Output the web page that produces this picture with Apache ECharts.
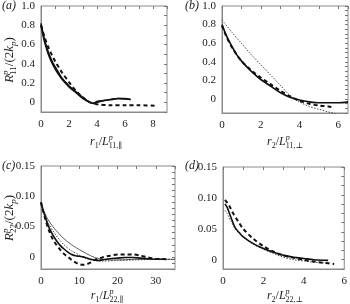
<!DOCTYPE html>
<html>
<head>
<meta charset="utf-8">
<script src="https://cdn.jsdelivr.net/npm/echarts@6/dist/echarts.min.js"></script>
<style>
  html, body { margin: 0; padding: 0; background: #fff; }
  #chart { width: 350px; height: 304px; }
</style>
</head>
<body>
<div id="chart"></div>
<script>
// ---- data ([r, R] pairs) ----
// (a)
var aSolid1 = [[0,0.82],[0.25,0.65],[0.5,0.53],[0.75,0.44],[1,0.37],[1.25,0.31],[1.5,0.25],[1.75,0.21],[2,0.17],[2.5,0.11],[3,0.05],[3.5,0.0],[3.75,-0.01],[4,0.0],[4.5,0.02],[5,0.03],[5.5,0.04],[6,0.04],[6.4,0.03]];
var aSolid2 = [[0,0.8],[0.25,0.63],[0.5,0.51],[0.75,0.42],[1,0.35],[1.25,0.29],[1.5,0.24],[1.75,0.2],[2,0.16],[2.5,0.1],[3,0.04],[3.5,0.0],[3.75,-0.01],[4,0.01],[4.5,0.02],[5,0.03],[5.5,0.04],[6,0.035],[6.4,0.03]];
var aDash   = [[0,0.8],[0.25,0.68],[0.5,0.58],[0.75,0.5],[1,0.43],[1.5,0.31],[2,0.21],[2.5,0.12],[3,0.05],[3.5,0.0],[4,-0.02],[5,-0.03],[6,-0.03],[7,-0.03],[8.2,-0.035]];
// (b)
var bSolid  = [[0,0.8],[0.25,0.67],[0.5,0.57],[0.75,0.48],[1,0.41],[1.5,0.3],[2,0.21],[2.5,0.14],[3,0.07],[3.5,0.02],[4,-0.01],[4.5,-0.03],[5,-0.04],[5.5,-0.04],[6,-0.04],[6.5,-0.03]];
var bDash   = [[0,0.79],[0.25,0.66],[0.5,0.56],[0.75,0.48],[1,0.41],[1.5,0.31],[2,0.23],[2.5,0.16],[3,0.09],[3.5,0.03],[4,-0.02],[4.5,-0.05],[5,-0.07],[5.5,-0.08],[5.8,-0.09]];
var bDot    = [[0,0.85],[0.5,0.72],[1,0.6],[1.5,0.48],[2,0.37],[2.5,0.26],[3,0.15],[3.5,0.04],[4,-0.03],[4.5,-0.08],[5,-0.11],[5.5,-0.14],[6,-0.16],[6.5,-0.17]];
// (c)
var cSolid  = [[0,0.09],[1,0.068],[2,0.05],[3,0.037],[4,0.027],[5,0.019],[6,0.013],[7,0.008],[8,0.004],[9,0.002],[10,0.001],[11,0.0],[12,-0.002],[13,-0.004],[14,-0.005],[15,-0.006],[16,-0.005],[18,-0.003],[20,-0.002],[22,-0.001],[24,-0.001],[26,-0.002],[28,-0.003],[30,-0.004],[32,-0.004]];
var cDash   = [[0,0.09],[1,0.065],[2,0.045],[3,0.03],[4,0.02],[5,0.012],[6,0.005],[7,0.0],[8,-0.005],[9,-0.009],[10,-0.012],[11,-0.013],[12,-0.012],[13,-0.009],[14,-0.005],[16,-0.001],[18,0.002],[20,0.004],[22,0.004],[24,0.004],[26,0.002],[28,-0.001],[30,-0.003],[33,-0.004]];
var cThin   = [[0,0.085],[2,0.06],[4,0.043],[6,0.03],[8,0.02],[10,0.012],[12,0.005],[14,-0.001],[16,-0.004],[18,-0.005],[20,-0.005],[25,-0.004],[30,-0.004],[35,-0.004]];
var cDot    = [[0,0.088],[2,0.055],[4,0.035],[6,0.02],[8,0.01],[10,0.003],[12,-0.003],[14,-0.006],[16,-0.007],[20,-0.006],[25,-0.005],[30,-0.004],[35,-0.004]];
// (d)
var dSolid  = [[0.1,0.09],[0.2,0.085],[0.4,0.068],[0.6,0.052],[0.8,0.044],[1,0.037],[1.5,0.026],[2,0.018],[2.5,0.012],[3,0.007],[3.5,0.004],[4,0.002],[4.5,0.0],[5.2,-0.001]];
var dDash   = [[0.1,0.097],[0.3,0.088],[0.5,0.075],[0.75,0.062],[1,0.05],[1.5,0.034],[2,0.022],[2.5,0.013],[3,0.007],[3.5,0.003],[4,0.0],[4.5,-0.003],[5,-0.005],[5.5,-0.007]];
var dDot    = [[0.1,0.08],[0.2,0.075],[0.4,0.062],[0.6,0.05],[0.8,0.043],[1,0.037],[1.5,0.025],[2,0.017],[2.5,0.01],[3,0.004],[3.5,0.0],[4,-0.002],[4.5,-0.004],[5,-0.005]];

// tick labels
var abYLabels = [0, 0.2, 0.4, 0.6, 0.8, 1.0];
var aXLabels  = [0, 2, 4, 6, 8];
var bXLabels  = [0, 2, 4, 6];
var cdYLabels = [0, 0.05, 0.1, 0.15];
var cXLabels  = [0, 10, 20, 30];
var dXLabels  = [0, 2, 4, 6];

var SERIF = '"Liberation Serif", "DejaVu Serif", serif';
var INK = '#222';
var FRAME = '#8a8a8a';

var chart = echarts.init(document.getElementById('chart'), null, { renderer: 'canvas' });

// panels: grid box + axis ranges + tick step
var panels = [
  { box: { left: 41, top: 6, width: 126, height: 106 }, x: [0, 9], y: [-0.1, 1.0],
    xl: aXLabels, xs: 1, yl: abYLabels, ys: 0.1, yd: 1 },
  { box: { left: 222, top: 6, width: 126, height: 107 }, x: [0, 6.5], y: [-0.15, 1.0],
    xl: bXLabels, xs: 1, yl: abYLabels, ys: 0.05, yd: 1 },
  { box: { left: 41, top: 166, width: 134, height: 103 }, x: [0, 35], y: [-0.02, 0.15],
    xl: cXLabels, xs: 5, yl: cdYLabels, ys: 0.01, yd: 2 },
  { box: { left: 223, top: 167, width: 124, height: 102 }, x: [0, 6], y: [-0.015, 0.15],
    xl: dXLabels, xs: 1, yl: cdYLabels, ys: 0.015, yd: 2 }
];

var grids = [], xAxes = [], yAxes = [];
panels.forEach(function (p, i) {
  grids.push({ left: p.box.left, top: p.box.top, width: p.box.width, height: p.box.height,
    show: true, borderColor: FRAME, borderWidth: 1, backgroundColor: 'transparent' });
  var fmtY = function (v) { return Math.abs(v) < 1e-9 ? '0' : v.toFixed(p.yd); };
  // labelled axes (bottom / left)
  xAxes.push({
    type: 'value', gridIndex: i, position: 'bottom', min: p.x[0], max: p.x[1],
    axisLine: { show: true, onZero: false, lineStyle: { color: FRAME, width: 1 } },
    splitLine: { show: false },
    axisTick: { show: false },
    axisLabel: { customValues: p.xl, margin: 7, color: INK,
      fontFamily: SERIF, fontSize: 11, formatter: function (v) { return String(v); } }
  });
  yAxes.push({
    type: 'value', gridIndex: i, position: 'left', min: p.y[0], max: p.y[1],
    axisLine: { show: true, onZero: false, lineStyle: { color: FRAME, width: 1 } },
    splitLine: { show: false },
    axisTick: { show: false },
    axisLabel: { customValues: p.yl, margin: 6, color: INK,
      fontFamily: SERIF, fontSize: 11, formatter: fmtY }
  });
  // tick-only axes (top / right), plain interval ticks
  xAxes.push({
    type: 'value', gridIndex: i, position: 'top', min: p.x[0], max: p.x[1], interval: p.xs,
    axisLine: { show: false, onZero: false },
    splitLine: { show: false },
    axisTick: { show: true, inside: true, length: 3, lineStyle: { color: '#777', width: 1 } },
    axisLabel: { show: false }
  });
  yAxes.push({
    type: 'value', gridIndex: i, position: 'right', min: p.y[0], max: p.y[1], interval: p.ys,
    axisLine: { show: false, onZero: false },
    splitLine: { show: false },
    axisTick: { show: true, inside: true, length: 3, lineStyle: { color: '#777', width: 1 } },
    axisLabel: { show: false }
  });
});

function line(panel, data, kind) {
  var styles = {
    solid: { color: '#111', width: 1.6, type: 'solid' },
    dash:  { color: '#111', width: 2, type: [4, 3] },
    thin:  { color: '#333', width: 0.8, type: 'solid' },
    dot:   { color: '#333', width: 0.9, type: [1.5, 1.5] }
  };
  return {
    type: 'line', xAxisIndex: panel * 2, yAxisIndex: panel * 2, data: data,
    showSymbol: false, smooth: 0.3, silent: true, animation: false,
    lineStyle: styles[kind]
  };
}

var series = [
  line(0, aDash, 'dash'), line(0, aSolid1, 'solid'), line(0, aSolid2, 'solid'),
  line(1, bDot, 'dot'), line(1, bDash, 'dash'), line(1, bSolid, 'solid'),
  line(2, cThin, 'thin'), line(2, cDot, 'dot'), line(2, cDash, 'dash'), line(2, cSolid, 'solid'),
  line(3, dDot, 'dot'), line(3, dDash, 'dash'), line(3, dSolid, 'solid')
];

// math-style axis titles built from text pieces
var measureCtx = document.createElement('canvas').getContext('2d');
function mathText(segs, base) {
  var x = 0, stackX = 0, children = [];
  segs.forEach(function (s) {
    var small = s.sup || s.sub;
    var size = small ? Math.round(base * 0.68) : base;
    var font = (s.it ? 'italic ' : '') + size + 'px ' + SERIF;
    measureCtx.font = font;
    var w = measureCtx.measureText(s.t).width;
    var x0 = s.stack ? stackX : x;
    var dy = s.sup ? -base * 0.36 : (s.sub ? base * 0.3 : 0);
    children.push({ type: 'text', x: x0, y: dy,
      style: { text: s.t, font: font, fill: INK, textAlign: 'left', textVerticalAlign: 'middle' } });
    if (s.stack) { x = Math.max(x, x0 + w); } else { stackX = x; x += w; }
  });
  children.forEach(function (c) { c.x -= x / 2; });
  return children;
}
function titleGroup(segs, cx, cy, vertical, size) {
  return { type: 'group', x: cx, y: cy, rotation: vertical ? Math.PI / 2 : 0,
    silent: true, children: mathText(segs, size || 12) };
}

var yTitleA = [{ t: 'R', it: true }, { t: 'p', it: true, sup: true }, { t: '11', sub: true, stack: true },
  { t: '/(2' }, { t: 'k', it: true }, { t: 'p', it: true, sub: true }, { t: ')' }];
var yTitleC = [{ t: 'R', it: true }, { t: 'p', it: true, sup: true }, { t: '22', sub: true, stack: true },
  { t: '/(2' }, { t: 'k', it: true }, { t: 'p', it: true, sub: true }, { t: ')' }];
function xTitle(r, idx) {
  return [{ t: 'r', it: true }, { t: r, sub: true }, { t: '/' }, { t: 'L', it: true },
    { t: 'p', it: true, sup: true }, { t: idx, sub: true, stack: true }];
}

var graphics = [
  titleGroup(yTitleA, 10, 60, true, 13),
  titleGroup(yTitleC, 10, 218, true, 13),
  titleGroup(xTitle('1', '11,\u2225'), 106, 142, false),
  titleGroup(xTitle('2', '11,\u22a5'), 285, 142, false),
  titleGroup(xTitle('1', '22,\u2225'), 107, 296, false),
  titleGroup(xTitle('2', '22,\u22a5'), 285, 296, false)
];
[['(a)', 2, 6], ['(b)', 185, 6], ['(c)', 2, 166], ['(d)', 185, 166]].forEach(function (t) {
  graphics.push({ type: 'text', x: t[1], y: t[2], silent: true,
    style: { text: t[0], font: 'italic 12px ' + SERIF, fill: INK, textAlign: 'left', textVerticalAlign: 'middle' } });
});

chart.setOption({
  animation: false,
  backgroundColor: '#fff',
  grid: grids,
  xAxis: xAxes,
  yAxis: yAxes,
  series: series,
  graphic: graphics
});

window.onresize = function () { chart.resize(); };
</script>
</body>
</html>
